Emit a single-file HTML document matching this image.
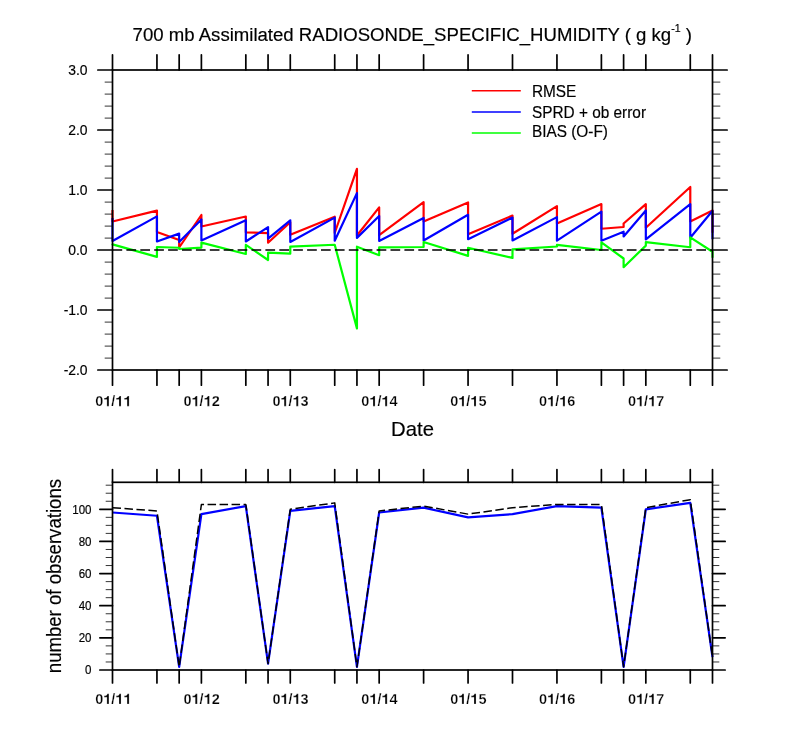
<!DOCTYPE html>
<html><head><meta charset="utf-8"><title>chart</title>
<style>
html,body{margin:0;padding:0;background:#fff;}
svg{display:block;}
text{font-family:"Liberation Sans",sans-serif;fill:#000;stroke:#000;stroke-width:0.18px;}
</style></head><body>
<svg width="800" height="750" viewBox="0 0 800 750">
<rect x="0" y="0" width="800" height="750" fill="#fff"/>
<g fill="none" stroke-linejoin="round" stroke-linecap="butt" stroke-width="2.2">
<polyline stroke="#ff0000" points="112.50,210.00 112.50,221.50 156.94,210.60 156.94,232.00 179.17,240.00 179.17,247.50 201.39,215.00 201.39,226.50 245.83,216.50 245.83,232.30 268.06,233.20 268.06,242.70 290.28,222.20 290.28,234.80 334.72,216.70 334.72,233.00 356.94,168.85 356.94,235.50 379.17,207.40 379.17,235.20 423.61,202.10 423.61,221.50 468.06,202.50 468.06,234.25 512.50,215.60 512.50,233.70 556.94,206.10 556.94,223.40 601.39,204.10 601.39,228.75 623.61,227.00 623.61,223.50 645.83,204.10 645.83,227.75 690.28,187.00 690.28,221.50 712.50,210.50 712.50,232.80"/>
<polyline stroke="#0000ff" points="112.50,218.00 112.50,241.00 156.94,216.40 156.94,241.50 179.17,233.60 179.17,242.00 201.39,219.50 201.39,240.50 245.83,220.30 245.83,241.50 268.06,227.10 268.06,238.70 290.28,220.30 290.28,242.00 334.72,217.60 334.72,240.70 356.94,193.10 356.94,237.90 379.17,216.00 379.17,240.90 423.61,218.00 423.61,240.50 468.06,214.80 468.06,239.20 512.50,217.60 512.50,240.50 556.94,217.10 556.94,240.70 601.39,211.60 601.39,240.70 623.61,231.70 623.61,236.50 645.83,210.50 645.83,239.40 690.28,204.10 690.28,237.70 712.50,210.80 712.50,239.30"/>
</g>
<g fill="none" stroke-linejoin="round" stroke-linecap="butt" stroke-width="2.2">
<polyline stroke="#00ff00" points="112.50,243.80 112.50,244.40 156.94,256.90 156.94,247.00 179.17,247.75 179.17,249.00 201.39,247.60 201.39,242.60 245.83,254.00 245.83,244.80 268.06,260.00 268.06,252.70 290.28,253.60 290.28,246.60 334.72,244.75 334.72,244.75 356.94,328.40 356.94,246.70 379.17,255.20 379.17,247.40 423.61,247.00 423.61,242.00 468.06,255.90 468.06,247.80 512.50,257.90 512.50,249.30 556.94,246.50 556.94,244.90 601.39,250.00 601.39,242.30 623.61,258.50 623.61,267.20 645.83,245.60 645.83,242.20 690.28,247.25 690.28,237.30 712.50,251.75 712.50,257.75"/>
</g>
<line x1="112.5" y1="250" x2="712.5" y2="250" stroke="#000" stroke-width="1.6" stroke-dasharray="9.7 4.2"/>
<g stroke="#000" fill="none">
<rect x="112.5" y="70" width="600.0" height="300" stroke-width="1.7"/>
<path stroke-width="1.7" stroke-linecap="round" d="M112.50,54.85 V70 M112.50,370 V385.15 M156.94,54.85 V70 M156.94,370 V385.15 M179.17,54.85 V70 M179.17,370 V385.15 M201.39,54.85 V70 M201.39,370 V385.15 M245.83,54.85 V70 M245.83,370 V385.15 M268.06,54.85 V70 M268.06,370 V385.15 M290.28,54.85 V70 M290.28,370 V385.15 M334.72,54.85 V70 M334.72,370 V385.15 M356.94,54.85 V70 M356.94,370 V385.15 M379.17,54.85 V70 M379.17,370 V385.15 M423.61,54.85 V70 M423.61,370 V385.15 M468.06,54.85 V70 M468.06,370 V385.15 M512.50,54.85 V70 M512.50,370 V385.15 M556.94,54.85 V70 M556.94,370 V385.15 M601.39,54.85 V70 M601.39,370 V385.15 M623.61,54.85 V70 M623.61,370 V385.15 M645.83,54.85 V70 M645.83,370 V385.15 M690.28,54.85 V70 M690.28,370 V385.15 M712.50,54.85 V70 M712.50,370 V385.15 M97.85,70 H112.5 M712.5,70 H727.15 M97.85,130 H112.5 M712.5,130 H727.15 M97.85,190 H112.5 M712.5,190 H727.15 M97.85,250 H112.5 M712.5,250 H727.15 M97.85,310 H112.5 M712.5,310 H727.15 M97.85,370 H112.5 M712.5,370 H727.15"/>
<path stroke-width="0.8" d="M104.7,82.1 H112.5 M712.5,82.1 H720.3 M104.7,94.1 H112.5 M712.5,94.1 H720.3 M104.7,106.1 H112.5 M712.5,106.1 H720.3 M104.7,118.1 H112.5 M712.5,118.1 H720.3 M104.7,142.1 H112.5 M712.5,142.1 H720.3 M104.7,154.1 H112.5 M712.5,154.1 H720.3 M104.7,166.1 H112.5 M712.5,166.1 H720.3 M104.7,178.1 H112.5 M712.5,178.1 H720.3 M104.7,202.1 H112.5 M712.5,202.1 H720.3 M104.7,214.1 H112.5 M712.5,214.1 H720.3 M104.7,226.1 H112.5 M712.5,226.1 H720.3 M104.7,238.1 H112.5 M712.5,238.1 H720.3 M104.7,262.1 H112.5 M712.5,262.1 H720.3 M104.7,274.1 H112.5 M712.5,274.1 H720.3 M104.7,286.1 H112.5 M712.5,286.1 H720.3 M104.7,298.1 H112.5 M712.5,298.1 H720.3 M104.7,322.1 H112.5 M712.5,322.1 H720.3 M104.7,334.1 H112.5 M712.5,334.1 H720.3 M104.7,346.1 H112.5 M712.5,346.1 H720.3 M104.7,358.1 H112.5 M712.5,358.1 H720.3"/>
</g>
<line x1="471.8" y1="90.75" x2="520.8" y2="90.75" stroke="#ff0000" stroke-width="1.5"/>
<line x1="471.8" y1="111.9" x2="520.8" y2="111.9" stroke="#0000ff" stroke-width="1.5"/>
<line x1="471.8" y1="132.9" x2="520.8" y2="132.9" stroke="#00ff00" stroke-width="1.5"/>
<g fill="none" stroke-linejoin="round">
<polyline stroke="#0000ff" stroke-width="2.2" points="112.50,512.51 156.94,515.73 179.17,666.79 201.39,514.12 245.83,506.09 268.06,663.57 290.28,510.91 334.72,506.09 356.94,666.79 379.17,512.51 423.61,507.69 468.06,517.34 512.50,514.12 556.94,506.09 601.39,507.69 623.61,666.79 645.83,509.30 690.28,502.87 712.50,657.14"/>
<polyline stroke="#000" stroke-width="1.5" stroke-dasharray="8.5 3.5" points="112.50,507.69 156.94,510.91 179.17,666.79 201.39,504.48 245.83,504.48 268.06,663.57 290.28,509.30 334.72,502.87 356.94,666.79 379.17,510.91 423.61,506.09 468.06,514.12 512.50,507.69 556.94,504.48 601.39,504.48 623.61,666.79 645.83,507.69 690.28,499.66 712.50,657.14"/>
</g>
<g stroke="#000" fill="none">
<rect x="112.5" y="482.3" width="600.0" height="187.7" stroke-width="1.7"/>
<path stroke-width="1.7" stroke-linecap="round" d="M112.50,469.60 V482.3 M112.50,670.0 V682.90 M156.94,469.60 V482.3 M156.94,670.0 V682.90 M179.17,469.60 V482.3 M179.17,670.0 V682.90 M201.39,469.60 V482.3 M201.39,670.0 V682.90 M245.83,469.60 V482.3 M245.83,670.0 V682.90 M268.06,469.60 V482.3 M268.06,670.0 V682.90 M290.28,469.60 V482.3 M290.28,670.0 V682.90 M334.72,469.60 V482.3 M334.72,670.0 V682.90 M356.94,469.60 V482.3 M356.94,670.0 V682.90 M379.17,469.60 V482.3 M379.17,670.0 V682.90 M423.61,469.60 V482.3 M423.61,670.0 V682.90 M468.06,469.60 V482.3 M468.06,670.0 V682.90 M512.50,469.60 V482.3 M512.50,670.0 V682.90 M556.94,469.60 V482.3 M556.94,670.0 V682.90 M601.39,469.60 V482.3 M601.39,670.0 V682.90 M623.61,469.60 V482.3 M623.61,670.0 V682.90 M645.83,469.60 V482.3 M645.83,670.0 V682.90 M690.28,469.60 V482.3 M690.28,670.0 V682.90 M712.50,469.60 V482.3 M712.50,670.0 V682.90 M99.85,670.00 H112.5 M712.5,670.00 H725.15 M99.85,637.86 H112.5 M712.5,637.86 H725.15 M99.85,605.72 H112.5 M712.5,605.72 H725.15 M99.85,573.58 H112.5 M712.5,573.58 H725.15 M99.85,541.44 H112.5 M712.5,541.44 H725.15 M99.85,509.30 H112.5 M712.5,509.30 H725.15"/>
<path stroke-width="0.8" d="M105.7,661.97 H112.5 M712.5,661.97 H719.3 M105.7,653.93 H112.5 M712.5,653.93 H719.3 M105.7,645.89 H112.5 M712.5,645.89 H719.3 M105.7,629.83 H112.5 M712.5,629.83 H719.3 M105.7,621.79 H112.5 M712.5,621.79 H719.3 M105.7,613.75 H112.5 M712.5,613.75 H719.3 M105.7,597.68 H112.5 M712.5,597.68 H719.3 M105.7,589.65 H112.5 M712.5,589.65 H719.3 M105.7,581.62 H112.5 M712.5,581.62 H719.3 M105.7,565.54 H112.5 M712.5,565.54 H719.3 M105.7,557.51 H112.5 M712.5,557.51 H719.3 M105.7,549.48 H112.5 M712.5,549.48 H719.3 M105.7,533.40 H112.5 M712.5,533.40 H719.3 M105.7,525.37 H112.5 M712.5,525.37 H719.3 M105.7,517.34 H112.5 M712.5,517.34 H719.3 M105.7,501.26 H112.5 M712.5,501.26 H719.3 M105.7,493.23 H112.5 M712.5,493.23 H719.3 M105.7,485.19 H112.5 M712.5,485.19 H719.3"/>
</g>
<g style="filter:grayscale(1)">
<text x="412.3" y="40.6" font-size="18.58" text-anchor="middle" id="title">700 mb Assimilated RADIOSONDE_SPECIFIC_HUMIDITY ( g kg<tspan font-size="10.6" dy="-8.8">-1</tspan><tspan dy="8.8"> )</tspan></text>
<text x="87.6" y="74.9" font-size="13.9" text-anchor="end">3.0</text>
<text x="87.6" y="134.9" font-size="13.9" text-anchor="end">2.0</text>
<text x="87.6" y="194.9" font-size="13.9" text-anchor="end">1.0</text>
<text x="87.6" y="254.9" font-size="13.9" text-anchor="end">0.0</text>
<text x="87.6" y="314.9" font-size="13.9" text-anchor="end">-1.0</text>
<text x="87.6" y="374.9" font-size="13.9" text-anchor="end">-2.0</text>
<text x="95.16 111.28" y="406.2" font-size="14.5" font-weight="bold" style="stroke:#fff;stroke-width:0.25px">0/</text>
<path class="g1" stroke="#fff" stroke-width="18" transform="translate(103.22,406.2) scale(0.01450,-0.01450)" d="M254,0 V470 H63 V564 C171,567 266,600 288,709 H394 V0 Z"/>
<path class="g1" stroke="#fff" stroke-width="18" transform="translate(115.32,406.2) scale(0.01450,-0.01450)" d="M254,0 V470 H63 V564 C171,567 266,600 288,709 H394 V0 Z"/>
<path class="g1" stroke="#fff" stroke-width="18" transform="translate(123.38,406.2) scale(0.01450,-0.01450)" d="M254,0 V470 H63 V564 C171,567 266,600 288,709 H394 V0 Z"/>
<text x="183.50 199.62 211.72" y="406.2" font-size="14.5" font-weight="bold" style="stroke:#fff;stroke-width:0.25px">0/2</text>
<path class="g1" stroke="#fff" stroke-width="18" transform="translate(191.56,406.2) scale(0.01450,-0.01450)" d="M254,0 V470 H63 V564 C171,567 266,600 288,709 H394 V0 Z"/>
<path class="g1" stroke="#fff" stroke-width="18" transform="translate(203.65,406.2) scale(0.01450,-0.01450)" d="M254,0 V470 H63 V564 C171,567 266,600 288,709 H394 V0 Z"/>
<text x="272.39 288.51 300.61" y="406.2" font-size="14.5" font-weight="bold" style="stroke:#fff;stroke-width:0.25px">0/3</text>
<path class="g1" stroke="#fff" stroke-width="18" transform="translate(280.45,406.2) scale(0.01450,-0.01450)" d="M254,0 V470 H63 V564 C171,567 266,600 288,709 H394 V0 Z"/>
<path class="g1" stroke="#fff" stroke-width="18" transform="translate(292.54,406.2) scale(0.01450,-0.01450)" d="M254,0 V470 H63 V564 C171,567 266,600 288,709 H394 V0 Z"/>
<text x="361.28 377.40 389.49" y="406.2" font-size="14.5" font-weight="bold" style="stroke:#fff;stroke-width:0.25px">0/4</text>
<path class="g1" stroke="#fff" stroke-width="18" transform="translate(369.34,406.2) scale(0.01450,-0.01450)" d="M254,0 V470 H63 V564 C171,567 266,600 288,709 H394 V0 Z"/>
<path class="g1" stroke="#fff" stroke-width="18" transform="translate(381.43,406.2) scale(0.01450,-0.01450)" d="M254,0 V470 H63 V564 C171,567 266,600 288,709 H394 V0 Z"/>
<text x="450.17 466.29 478.38" y="406.2" font-size="14.5" font-weight="bold" style="stroke:#fff;stroke-width:0.25px">0/5</text>
<path class="g1" stroke="#fff" stroke-width="18" transform="translate(458.23,406.2) scale(0.01450,-0.01450)" d="M254,0 V470 H63 V564 C171,567 266,600 288,709 H394 V0 Z"/>
<path class="g1" stroke="#fff" stroke-width="18" transform="translate(470.32,406.2) scale(0.01450,-0.01450)" d="M254,0 V470 H63 V564 C171,567 266,600 288,709 H394 V0 Z"/>
<text x="539.05 555.18 567.27" y="406.2" font-size="14.5" font-weight="bold" style="stroke:#fff;stroke-width:0.25px">0/6</text>
<path class="g1" stroke="#fff" stroke-width="18" transform="translate(547.12,406.2) scale(0.01450,-0.01450)" d="M254,0 V470 H63 V564 C171,567 266,600 288,709 H394 V0 Z"/>
<path class="g1" stroke="#fff" stroke-width="18" transform="translate(559.21,406.2) scale(0.01450,-0.01450)" d="M254,0 V470 H63 V564 C171,567 266,600 288,709 H394 V0 Z"/>
<text x="627.94 644.07 656.16" y="406.2" font-size="14.5" font-weight="bold" style="stroke:#fff;stroke-width:0.25px">0/7</text>
<path class="g1" stroke="#fff" stroke-width="18" transform="translate(636.01,406.2) scale(0.01450,-0.01450)" d="M254,0 V470 H63 V564 C171,567 266,600 288,709 H394 V0 Z"/>
<path class="g1" stroke="#fff" stroke-width="18" transform="translate(648.10,406.2) scale(0.01450,-0.01450)" d="M254,0 V470 H63 V564 C171,567 266,600 288,709 H394 V0 Z"/>
<text x="412.5" y="435.5" font-size="20.3" text-anchor="middle">Date</text>
<text transform="translate(531.9,96.7) scale(0.922,1)" font-size="16.7">RMSE</text>
<text transform="translate(531.9,117.7) scale(0.922,1)" font-size="16.7">SPRD + ob error</text>
<text transform="translate(531.9,137.1) scale(0.922,1)" font-size="16.7">BIAS (O-F)</text>
<text transform="translate(91.5,674.30) scale(0.955,1)" font-size="12.1" text-anchor="end">0</text>
<text transform="translate(91.5,642.16) scale(0.955,1)" font-size="12.1" text-anchor="end">20</text>
<text transform="translate(91.5,610.02) scale(0.955,1)" font-size="12.1" text-anchor="end">40</text>
<text transform="translate(91.5,577.88) scale(0.955,1)" font-size="12.1" text-anchor="end">60</text>
<text transform="translate(91.5,545.74) scale(0.955,1)" font-size="12.1" text-anchor="end">80</text>
<text transform="translate(91.5,513.60) scale(0.955,1)" font-size="12.1" text-anchor="end">100</text>
<text x="95.16 111.28" y="704" font-size="14.5" font-weight="bold" style="stroke:#fff;stroke-width:0.25px">0/</text>
<path class="g1" stroke="#fff" stroke-width="18" transform="translate(103.22,704) scale(0.01450,-0.01450)" d="M254,0 V470 H63 V564 C171,567 266,600 288,709 H394 V0 Z"/>
<path class="g1" stroke="#fff" stroke-width="18" transform="translate(115.32,704) scale(0.01450,-0.01450)" d="M254,0 V470 H63 V564 C171,567 266,600 288,709 H394 V0 Z"/>
<path class="g1" stroke="#fff" stroke-width="18" transform="translate(123.38,704) scale(0.01450,-0.01450)" d="M254,0 V470 H63 V564 C171,567 266,600 288,709 H394 V0 Z"/>
<text x="183.50 199.62 211.72" y="704" font-size="14.5" font-weight="bold" style="stroke:#fff;stroke-width:0.25px">0/2</text>
<path class="g1" stroke="#fff" stroke-width="18" transform="translate(191.56,704) scale(0.01450,-0.01450)" d="M254,0 V470 H63 V564 C171,567 266,600 288,709 H394 V0 Z"/>
<path class="g1" stroke="#fff" stroke-width="18" transform="translate(203.65,704) scale(0.01450,-0.01450)" d="M254,0 V470 H63 V564 C171,567 266,600 288,709 H394 V0 Z"/>
<text x="272.39 288.51 300.61" y="704" font-size="14.5" font-weight="bold" style="stroke:#fff;stroke-width:0.25px">0/3</text>
<path class="g1" stroke="#fff" stroke-width="18" transform="translate(280.45,704) scale(0.01450,-0.01450)" d="M254,0 V470 H63 V564 C171,567 266,600 288,709 H394 V0 Z"/>
<path class="g1" stroke="#fff" stroke-width="18" transform="translate(292.54,704) scale(0.01450,-0.01450)" d="M254,0 V470 H63 V564 C171,567 266,600 288,709 H394 V0 Z"/>
<text x="361.28 377.40 389.49" y="704" font-size="14.5" font-weight="bold" style="stroke:#fff;stroke-width:0.25px">0/4</text>
<path class="g1" stroke="#fff" stroke-width="18" transform="translate(369.34,704) scale(0.01450,-0.01450)" d="M254,0 V470 H63 V564 C171,567 266,600 288,709 H394 V0 Z"/>
<path class="g1" stroke="#fff" stroke-width="18" transform="translate(381.43,704) scale(0.01450,-0.01450)" d="M254,0 V470 H63 V564 C171,567 266,600 288,709 H394 V0 Z"/>
<text x="450.17 466.29 478.38" y="704" font-size="14.5" font-weight="bold" style="stroke:#fff;stroke-width:0.25px">0/5</text>
<path class="g1" stroke="#fff" stroke-width="18" transform="translate(458.23,704) scale(0.01450,-0.01450)" d="M254,0 V470 H63 V564 C171,567 266,600 288,709 H394 V0 Z"/>
<path class="g1" stroke="#fff" stroke-width="18" transform="translate(470.32,704) scale(0.01450,-0.01450)" d="M254,0 V470 H63 V564 C171,567 266,600 288,709 H394 V0 Z"/>
<text x="539.05 555.18 567.27" y="704" font-size="14.5" font-weight="bold" style="stroke:#fff;stroke-width:0.25px">0/6</text>
<path class="g1" stroke="#fff" stroke-width="18" transform="translate(547.12,704) scale(0.01450,-0.01450)" d="M254,0 V470 H63 V564 C171,567 266,600 288,709 H394 V0 Z"/>
<path class="g1" stroke="#fff" stroke-width="18" transform="translate(559.21,704) scale(0.01450,-0.01450)" d="M254,0 V470 H63 V564 C171,567 266,600 288,709 H394 V0 Z"/>
<text x="627.94 644.07 656.16" y="704" font-size="14.5" font-weight="bold" style="stroke:#fff;stroke-width:0.25px">0/7</text>
<path class="g1" stroke="#fff" stroke-width="18" transform="translate(636.01,704) scale(0.01450,-0.01450)" d="M254,0 V470 H63 V564 C171,567 266,600 288,709 H394 V0 Z"/>
<path class="g1" stroke="#fff" stroke-width="18" transform="translate(648.10,704) scale(0.01450,-0.01450)" d="M254,0 V470 H63 V564 C171,567 266,600 288,709 H394 V0 Z"/>
<text transform="translate(60.8,576.1) rotate(-90) scale(0.93,1)" font-size="20" text-anchor="middle" id="ylab">number of observations</text>
</g>
</svg></body></html>
